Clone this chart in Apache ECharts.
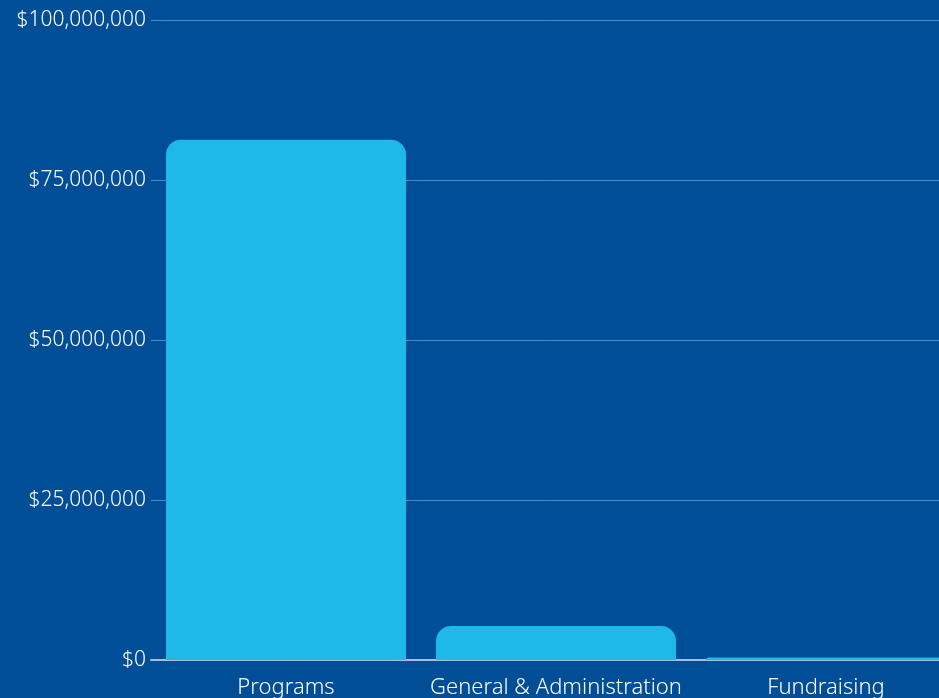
<!DOCTYPE html>
<html>
<head>
<meta charset="utf-8">
<script src="https://cdn.jsdelivr.net/npm/echarts@6/dist/echarts.min.js"></script>
<style>
  html, body { margin: 0; padding: 0; background: #004e98; }
  #chart { width: 939px; height: 698px; }
</style>
</head>
<body>
<div id="chart"></div>
<script>
// data
var categories = ["Programs", "General & Administration", "Fundraising"];
var expenses = [81300000, 5300000, 400000];
var yTicks = [0, 25000000, 50000000, 75000000, 100000000];

var chart = echarts.init(document.getElementById("chart"));

function money(v) {
  return "$" + v.toString().replace(/\B(?=(\d{3})+(?!\d))/g, ",");
}

var option = {
  backgroundColor: "#004e98",
  animation: false,
  grid: {
    left: 151, top: 20, bottom: 38, width: 810,
    outerBoundsMode: "none", containLabel: false
  },
  xAxis: {
    type: "category",
    data: categories,
    axisTick: { show: false },
    axisLine: { lineStyle: { color: "#a6bfdf", width: 2 } },
    axisLabel: {
      interval: 0,
      color: "#ffffff",
      fontFamily: "Noto Sans",
      fontWeight: 300,
      fontSize: 22,
      margin: 17
    }
  },
  yAxis: {
    type: "value",
    min: yTicks[0],
    max: yTicks[yTicks.length - 1],
    interval: yTicks[1] - yTicks[0],
    axisLabel: {
      color: "#ffffff",
      fontFamily: "Noto Sans",
      fontWeight: 300,
      fontSize: 21,
      margin: 5,
      padding: [4, 0, 0, 0],
      formatter: money
    },
    splitLine: { lineStyle: { color: "#4f86c3", width: 1 } }
  },
  series: [
    {
      type: "bar",
      data: expenses,
      barWidth: 240,
      itemStyle: { color: "#1fb9e9", borderRadius: [15, 15, 0, 0] }
    }
  ]
};
chart.setOption(option);
</script>
</body>
</html>
